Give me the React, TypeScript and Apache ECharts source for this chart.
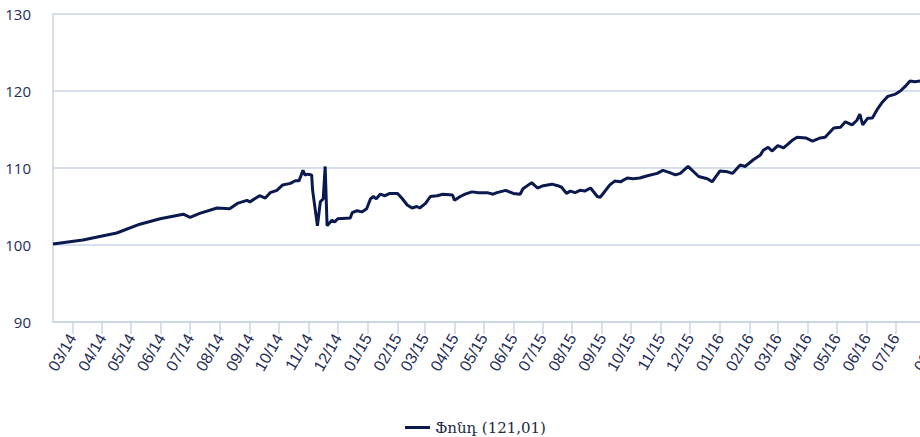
import React, { useEffect, useRef } from "react";
import * as echarts from "echarts";

const dates: string[] = [
  "2014-02-09", "2014-03-12", "2014-04-16", "2014-05-10", "2014-05-31", "2014-06-24",
  "2014-07-01", "2014-07-11", "2014-07-29", "2014-08-11", "2014-08-19", "2014-08-29",
  "2014-09-01", "2014-09-11", "2014-09-17", "2014-09-22", "2014-09-29", "2014-10-05",
  "2014-10-13", "2014-10-18", "2014-10-22", "2014-10-26", "2014-10-28", "2014-10-31",
  "2014-11-04", "2014-11-05", "2014-11-10", "2014-11-13", "2014-11-16", "2014-11-18",
  "2014-11-20", "2014-11-25", "2014-11-28", "2014-12-01", "2014-12-14", "2014-12-16",
  "2014-12-21", "2014-12-26", "2014-12-31", "2015-01-04", "2015-01-07", "2015-01-10",
  "2015-01-14", "2015-01-19", "2015-01-24", "2015-02-01", "2015-02-06", "2015-02-11",
  "2015-02-16", "2015-02-21", "2015-02-24", "2015-03-02", "2015-03-07", "2015-03-14",
  "2015-03-20", "2015-03-30", "2015-04-01", "2015-04-07", "2015-04-12", "2015-04-19",
  "2015-04-26", "2015-05-05", "2015-05-11", "2015-05-15", "2015-05-24", "2015-06-01",
  "2015-06-08", "2015-06-11", "2015-06-20", "2015-06-26", "2015-07-02", "2015-07-11",
  "2015-07-17", "2015-07-21", "2015-07-26", "2015-07-30", "2015-08-04", "2015-08-09",
  "2015-08-14", "2015-08-20", "2015-08-27", "2015-08-30", "2015-09-09", "2015-09-14",
  "2015-09-20", "2015-09-27", "2015-10-03", "2015-10-10", "2015-10-18", "2015-10-28",
  "2015-11-03", "2015-11-10", "2015-11-16", "2015-11-21", "2015-11-29", "2015-12-10",
  "2015-12-19", "2015-12-24", "2015-12-28", "2016-01-01", "2016-01-09", "2016-01-14",
  "2016-01-22", "2016-01-27", "2016-02-05", "2016-02-12", "2016-02-15", "2016-02-20",
  "2016-02-24", "2016-03-01", "2016-03-07", "2016-03-16", "2016-03-21", "2016-03-30",
  "2016-04-06", "2016-04-14", "2016-04-19", "2016-04-28", "2016-05-05", "2016-05-10",
  "2016-05-17", "2016-05-22", "2016-05-25", "2016-05-28", "2016-06-02", "2016-06-07",
  "2016-06-12", "2016-06-17", "2016-06-23", "2016-07-01", "2016-07-06", "2016-07-11",
  "2016-07-16", "2016-07-21", "2016-07-27", "2016-08-02",
];

const fundValues: number[] = [
  100.13, 100.65, 101.56, 102.7, 103.4, 104.0,
  103.6, 104.1, 104.8, 104.7, 105.4, 105.8,
  105.6, 106.4, 106.1, 106.8, 107.1, 107.8,
  108.0, 108.35, 108.35, 109.7, 109.1, 109.2,
  109.1, 107.1, 102.5, 105.6, 106.0, 110.2,
  102.5, 103.2, 103.0, 103.4, 103.5, 104.2,
  104.45, 104.3, 104.7, 106.0, 106.3, 106.0,
  106.6, 106.4, 106.7, 106.7, 106.0, 105.2,
  104.8, 105.0, 104.8, 105.4, 106.3, 106.4,
  106.6, 106.5, 105.8, 106.3, 106.6, 106.9,
  106.8, 106.8, 106.6, 106.8, 107.1, 106.7,
  106.6, 107.3, 108.1, 107.4, 107.7, 107.9,
  107.7, 107.5, 106.7, 107.0, 106.8, 107.1,
  107.0, 107.4, 106.3, 106.2, 107.8, 108.3,
  108.2, 108.7, 108.6, 108.7, 109.0, 109.3,
  109.7, 109.4, 109.1, 109.3, 110.2, 108.9,
  108.6, 108.2, 108.9, 109.6, 109.5, 109.3,
  110.4, 110.2, 111.1, 111.7, 112.3, 112.7,
  112.2, 112.9, 112.6, 113.6, 114.0, 113.9,
  113.5, 113.9, 114.0, 115.2, 115.3, 116.0,
  115.6, 116.2, 117.0, 115.6, 116.45, 116.5,
  117.6, 118.5, 119.3, 119.6, 120.0, 120.6,
  121.3, 121.2, 121.3, 121.3,
];

const seriesName = "Ֆոնդ (121,01)";
const yTicks: number[] = [90, 100, 110, 120, 130];
const axisStart = "2014-02-09";
const axisEnd = "2016-08-14";

export default function App() {
  const ref = useRef<HTMLDivElement>(null);
  useEffect(() => {
    if (!ref.current) return;
    const chart = echarts.init(ref.current, undefined, { renderer: "svg" });
    const textColor = "#1f2d57";
    const lineColor = "#c9d5e4";
    chart.setOption({
      animation: false,
      backgroundColor: "#ffffff",
      grid: { left: 53, right: 22, top: 14, bottom: 115 },
      legend: {
        show: true,
        left: 400,
        top: 415,
        itemWidth: 25,
        itemHeight: 14,
        icon: "path://M0,6 L25,6 L25,9 L0,9 Z",
        textStyle: { fontFamily: "DejaVu Serif", fontSize: 15, color: "#222a44" },
        data: [seriesName],
      },
      xAxis: {
        type: "time",
        min: axisStart,
        max: axisEnd,
        splitNumber: 30,
        minInterval: 28 * 86400000,
        axisLine: { show: true, lineStyle: { color: lineColor, width: 1.5 } },
        axisTick: { show: true, length: 12, lineStyle: { color: lineColor, width: 1.5 } },
        splitLine: { show: false },
        axisLabel: {
          rotate: 60,
          margin: 13,
          formatter: "{MM}/{yy}",
          color: textColor,
          fontFamily: "Liberation Sans",
          fontSize: 16,
          hideOverlap: false,
          showMinLabel: false,
          showMaxLabel: true,
        },
      },
      yAxis: {
        type: "value",
        min: yTicks[0],
        max: yTicks[yTicks.length - 1],
        interval: 10,
        axisLine: { show: true, lineStyle: { color: lineColor, width: 1.5 } },
        axisTick: { show: false },
        splitLine: { show: true, lineStyle: { color: lineColor, width: 1.5 } },
        axisLabel: {
          color: textColor,
          fontFamily: "Open Sans",
          fontSize: 15,
          margin: 22,
        },
      },
      series: [
        {
          name: seriesName,
          type: "line",
          showSymbol: false,
          symbol: "none",
          color: "#0b1a4e",
          lineStyle: { width: 3, color: "#0b1a4e" },
          data: dates.map((d, i) => [d, fundValues[i]]),
        },
      ],
    });
    return () => chart.dispose();
  }, []);
  return (
    <div style={{ position: "fixed", left: 0, top: 0, width: 920, height: 437, overflow: "hidden", background: "#fff" }}>
      <div ref={ref} style={{ width: 960, height: 437 }} />
    </div>
  );
}
